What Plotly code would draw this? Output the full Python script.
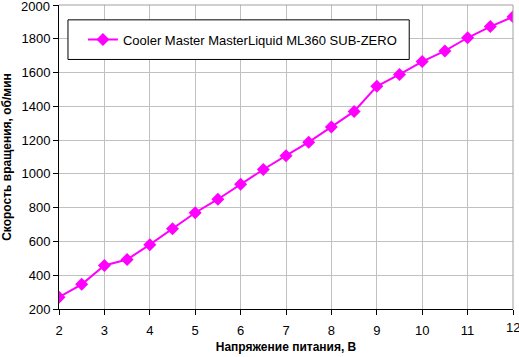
import plotly.graph_objects as go

voltage = [2, 2.5, 3, 3.5, 4, 4.5, 5, 5.5, 6, 6.5, 7, 7.5, 8, 8.5, 9, 9.5, 10, 10.5, 11, 11.5, 12]
rpm = [270, 346, 458, 493, 581, 675, 770, 850, 939, 1026, 1108, 1188, 1278, 1370, 1519, 1589, 1665, 1728, 1806, 1872, 1930]
series_name = "Cooler Master MasterLiquid ML360 SUB-ZERO"
x_title = "Напряжение питания, В"
y_title = "Скорость вращения, об/мин"
x_min, x_max = 2, 12
y_min, y_max = 200, 2000

W, H = 519, 357
L, R, T, B = 58, 6, 5, 45
pw = W - L - R
ph = H - T - B
FAM = "Liberation Sans, Arial, sans-serif"


def px(xp):
    return (xp - L) / pw


def py(yp):
    return (H - B - yp) / ph


fig = go.Figure()
fig.add_trace(go.Scatter(
    x=voltage, y=rpm, mode="lines+markers", name=series_name,
    line=dict(color="#FF00FF", width=2),
    marker=dict(symbol="diamond", size=10, color="#FF00FF"),
))

fig.update_layout(
    width=W, height=H,
    margin=dict(l=L, r=R, t=T, b=B),
    paper_bgcolor="white", plot_bgcolor="white",
    font=dict(family=FAM, size=13, color="#000000"),
    showlegend=True,
    legend=dict(
        x=px(82), y=py(40), xanchor="left", yanchor="middle",
        bgcolor="rgba(0,0,0,0)", borderwidth=0,
        font=dict(family=FAM, size=13),
        itemwidth=30,
    ),
    xaxis=dict(
        range=[x_min, x_max], dtick=1, tick0=2,
        showgrid=True, gridcolor="#C0C0C0", gridwidth=1,
        showline=True, linecolor="#000000", linewidth=1, mirror=False,
        ticks="outside", ticklen=5, tickcolor="#000000",
        ticklabelstandoff=4,
        zeroline=False,
        title=dict(text=x_title, font=dict(family=FAM, size=12, weight="bold"), standoff=6),
    ),
    yaxis=dict(
        range=[y_min, y_max], dtick=200,
        showgrid=True, gridcolor="#C0C0C0", gridwidth=1,
        showline=True, linecolor="#000000", linewidth=1,
        ticks="outside", ticklen=5, tickcolor="#000000",
        zeroline=False,
        title=dict(text=y_title, font=dict(family=FAM, size=12, weight="bold"), standoff=8),
    ),
    shapes=[
        dict(type="line", xref="paper", yref="paper", x0=0, x1=1, y0=1, y1=1, line=dict(color="#A0A0A0", width=1)),
        dict(type="line", xref="paper", yref="paper", x0=1, x1=1, y0=0, y1=1, line=dict(color="#A0A0A0", width=1)),
        dict(type="rect", xref="paper", yref="paper", x0=px(67), x1=px(409), y0=py(60), y1=py(20),
             fillcolor="white", line=dict(color="#000000", width=1)),
    ],
    annotations=[
        dict(text=str(x_max), x=x_max, xref="x", y=0, yref="paper", xanchor="center", yanchor="top",
             yshift=-9, showarrow=False, font=dict(family=FAM, size=13)),
        dict(text=str(y_max), x=0, xref="paper", y=y_max, yref="y", xanchor="right", yanchor="middle",
             xshift=-7, yshift=-1, showarrow=False, font=dict(family=FAM, size=13)),
    ],
)

fig.write_html("out.html", post_script="document.body.style.margin='0px';",
               config={"displayModeBar": False})
